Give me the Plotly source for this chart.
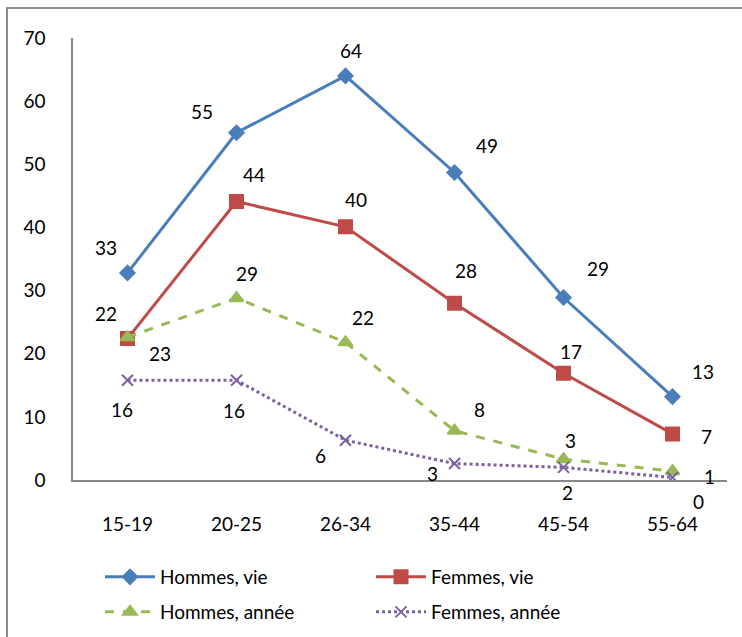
import plotly.graph_objects as go

categories = ["15-19", "20-25", "26-34", "35-44", "45-54", "55-64"]
hommes_vie = [32.8, 55.0, 64.0, 48.7, 28.9, 13.2]
femmes_vie = [22.4, 44.1, 40.1, 28.0, 16.9, 7.3]
hommes_annee = [22.6, 28.8, 21.8, 7.8, 3.3, 1.4]
femmes_annee = [15.8, 15.8, 6.3, 2.6, 2.0, 0.4]
y_ticks = [0, 10, 20, 30, 40, 50, 60, 70]

# label offsets in pixels (dx, dy up)
off_hv = [(-22, 25), (-35, 21), (5, 25), (32, 27), (34, 29), (30, 25)]
off_fv = [(-22, 25), (17, 27), (10, 27), (11, 33), (7, 22), (34, -3)]
off_ha = [(32, -16), (10, 25), (17, 25), (25, 21), (7, 19), (37, -5)]
off_fa = [(-6, -29), (-3, -30), (-25, -15), (-22, -10), (4, -25), (26, -24)]

W, H = 742, 637
L, R, T, B = 73, 15, 38, 157
FONT = "Lato"
FS = 19

fig = go.Figure()
series = [
    ("Hommes, vie", hommes_vie, "#4A7EBB", "solid", "diamond", 11, "legend", off_hv),
    ("Femmes, vie", femmes_vie, "#BE4B48", "solid", "square", 13, "legend", off_fv),
    ("Hommes, année", hommes_annee, "#98B954", "dash", "triangle-up", 12, "legend2", off_ha),
    ("Femmes, année", femmes_annee, "#7D60A0", "dot", "x-thin-open", 11, "legend2", off_fa),
]
annotations = []
for name, vals, col, dash, sym, ms, leg, offs in series:
    fig.add_trace(go.Scatter(
        x=categories, y=vals, name=name, mode="lines+markers",
        line=dict(color=col, width=3, dash=dash),
        marker=dict(symbol=sym, size=ms, color=col, line=dict(color=col, width=2)),
        legend=leg,
    ))
    for c, v, (dx, dy) in zip(categories, vals, offs):
        annotations.append(dict(
            x=c, y=v, xref="x", yref="y", text=f"{v:.0f}", showarrow=False,
            xshift=dx, yshift=dy, font=dict(family=FONT, size=FS, color="black"),
        ))

pw = W - L - R
ph = H - T - B

def px_x(px):
    return (px - L) / pw

def px_y(py):
    return (H - B - py) / ph

fig.add_shape(type="rect", xref="paper", yref="paper",
              x0=px_x(7), x1=px_x(W + 10), y0=px_y(8), y1=px_y(H + 10),
              line=dict(color="#8C8C8C", width=2), layer="below")

legend_common = dict(orientation="h", xanchor="left", yanchor="middle",
                     xref="container", yref="container",
                     entrywidth=206, entrywidthmode="pixels", font=dict(family=FONT, size=FS),
                     bgcolor="rgba(0,0,0,0)", itemwidth=50, tracegroupgap=0)

fig.update_layout(
    width=W, height=H,
    margin=dict(l=L, r=R, t=T, b=B),
    paper_bgcolor="white", plot_bgcolor="white",
    font=dict(family=FONT, size=FS, color="black"),
    showlegend=True,
    annotations=annotations,
    xaxis=dict(
        type="category", range=[-0.5, 5.5], showgrid=False, zeroline=False,
        showline=True, linecolor="#868686", linewidth=1.5,
        ticks="", ticklabelstandoff=26, tickfont=dict(family=FONT, size=FS),
    ),
    yaxis=dict(
        range=[0, 70], tickvals=y_ticks, showgrid=False, zeroline=False,
        showline=True, linecolor="#868686", linewidth=1.5,
        ticks="", ticklabelstandoff=22, tickfont=dict(family=FONT, size=FS),
    ),
    legend=dict(x=100 / W, y=1 - 577 / H, **legend_common),
    legend2=dict(x=100 / W, y=1 - 612 / H, **legend_common),
)

fig.write_html("out.html")
